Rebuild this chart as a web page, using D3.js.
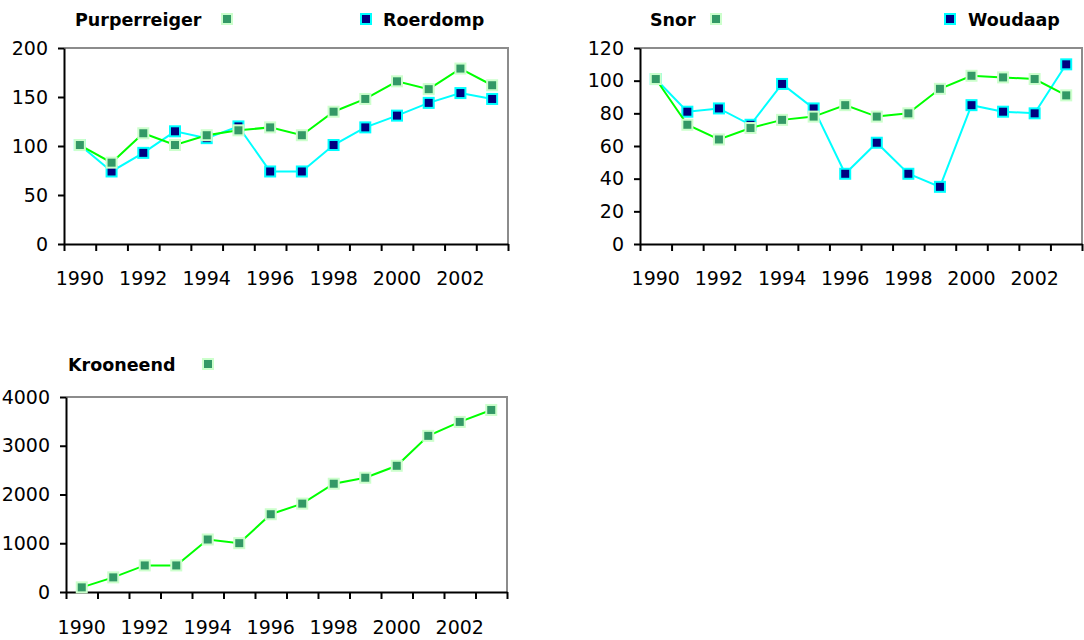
<!DOCTYPE html>
<html>
<head>
<meta charset="utf-8">
<script src="https://cdn.jsdelivr.net/npm/d3@7"></script>
<style>
  body { margin: 0; background: #fff; }
  svg { display: block; font-family: "DejaVu Sans", sans-serif; }
</style>
</head>
<body>
<div id="chart"></div>
<script>
// years on the x axis
var years = d3.range(1990, 2004);
var yearLabels = [1990, 1992, 1994, 1996, 1998, 2000, 2002];

// index values
var purperreiger = [101, 83, 113, 101, 111, 116, 119, 111, 135, 148, 166, 158, 179, 162];
var roerdomp = [101, 74, 93, 115, 108, 120, 74, 74, 101, 119, 131, 144, 154, 148];
var snor = [101, 73, 64, 71, 76, 78, 85, 78, 80, 95, 103, 102, 101, 91];
var woudaap = [101, 81, 83, 73, 98, 83, 43, 62, 43, 35, 85, 81, 80, 110];
var krooneend = [95, 300, 545, 545, 1077, 1002, 1595, 1813, 2221, 2344, 2589, 3203, 3489, 3734];

var ticks1 = [0, 50, 100, 150, 200];
var ticks2 = [0, 20, 40, 60, 80, 100, 120];
var ticks3 = [0, 1000, 2000, 3000, 4000];

var greenStyle = { line: "#00ff00", fill: "#339966", stroke: "#ccffcc" };
var blueStyle = { line: "#00ffff", fill: "#000080", stroke: "#00ffff" };

var svg = d3.select("#chart").append("svg")
  .attr("width", 1084)
  .attr("height", 640);

drawPanel({
  x0: 64, x1: 508, y0: 48, y1: 244, labelY: 285, titleY: 26, max: 200, ticks: ticks1,
  series: [
    { name: "Roerdomp", values: roerdomp, style: blueStyle, textX: 383, markX: 366 },
    { name: "Purperreiger", values: purperreiger, style: greenStyle, textX: 75, markX: 227 }
  ]
});

drawPanel({
  x0: 640, x1: 1082, y0: 48, y1: 244, labelY: 285, titleY: 26, max: 120, ticks: ticks2,
  series: [
    { name: "Woudaap", values: woudaap, style: blueStyle, textX: 968, markX: 950 },
    { name: "Snor", values: snor, style: greenStyle, textX: 650, markX: 716 }
  ]
});

drawPanel({
  x0: 66, x1: 507, y0: 397, y1: 592, labelY: 634, titleY: 371, max: 4000, ticks: ticks3,
  series: [
    { name: "Krooneend", values: krooneend, style: greenStyle, textX: 68, markX: 208 }
  ]
});

function drawPanel(p) {
  var g = svg.append("g");

  var x = d3.scaleBand().domain(years).range([p.x0, p.x1]).padding(0);
  var xi = d3.scaleLinear().domain([0, years.length]).range([p.x0, p.x1]);
  var y = d3.scaleLinear().domain([0, p.max]).range([p.y1, p.y0]);

  // top and right border
  g.append("path")
    .attr("d", "M" + p.x0 + "," + p.y0 + "H" + p.x1 + "V" + p.y1)
    .attr("fill", "none")
    .attr("stroke", "#8c8c8c")
    .attr("stroke-width", 2);

  // y axis
  var ya = g.append("g")
    .attr("transform", "translate(" + p.x0 + ",0)")
    .call(d3.axisLeft(y).tickValues(p.ticks).tickFormat(d3.format("d"))
      .tickSize(6).tickPadding(10).tickSizeOuter(0));
  ya.select(".domain").attr("stroke", "#000").attr("stroke-width", 2);
  ya.selectAll(".tick line").attr("stroke", "#000").attr("stroke-width", 2);
  ya.selectAll("text").attr("font-size", 19).attr("fill", "#000")
    .attr("font-family", "DejaVu Sans");

  // x axis, ticks at the category boundaries
  var xa = g.append("g")
    .attr("transform", "translate(0," + p.y1 + ")")
    .call(d3.axisBottom(xi).tickValues(d3.range(years.length + 1)).tickSize(7)
      .tickFormat("").tickSizeOuter(0));
  xa.select(".domain").attr("stroke", "#000").attr("stroke-width", 2);
  xa.selectAll(".tick line").attr("stroke", "#000").attr("stroke-width", 2);

  g.selectAll(".xlabel")
    .data(yearLabels)
    .enter()
    .append("text")
    .attr("class", "xlabel")
    .attr("x", function(d) { return x(d) + x.bandwidth() / 2; })
    .attr("y", p.labelY)
    .attr("text-anchor", "middle")
    .attr("font-size", 19)
    .text(function(d) { return d; });

  var line = d3.line()
    .x(function(d, i) { return x(years[i]) + x.bandwidth() / 2; })
    .y(function(d) { return y(d); });

  p.series.forEach(function(s) {
    g.append("path")
      .datum(s.values)
      .attr("d", line)
      .attr("fill", "none")
      .attr("stroke", s.style.line)
      .attr("stroke-width", 2);

    g.selectAll(null)
      .data(s.values)
      .enter()
      .append("rect")
      .attr("x", function(d, i) { return x(years[i]) + x.bandwidth() / 2 - 5; })
      .attr("y", function(d) { return y(d) - 5; })
      .attr("width", 10)
      .attr("height", 10)
      .attr("fill", s.style.fill)
      .attr("stroke", s.style.stroke)
      .attr("stroke-width", 2);

    // title / legend
    g.append("text")
      .attr("x", s.textX)
      .attr("y", p.titleY)
      .attr("font-size", 17.5)
      .attr("font-weight", "bold")
      .text(s.name);
    g.append("rect")
      .attr("x", s.markX - 5)
      .attr("y", p.titleY - 7 - 5)
      .attr("width", 10)
      .attr("height", 10)
      .attr("fill", s.style.fill)
      .attr("stroke", s.style.stroke)
      .attr("stroke-width", 2);
  });
}
</script>
</body>
</html>
